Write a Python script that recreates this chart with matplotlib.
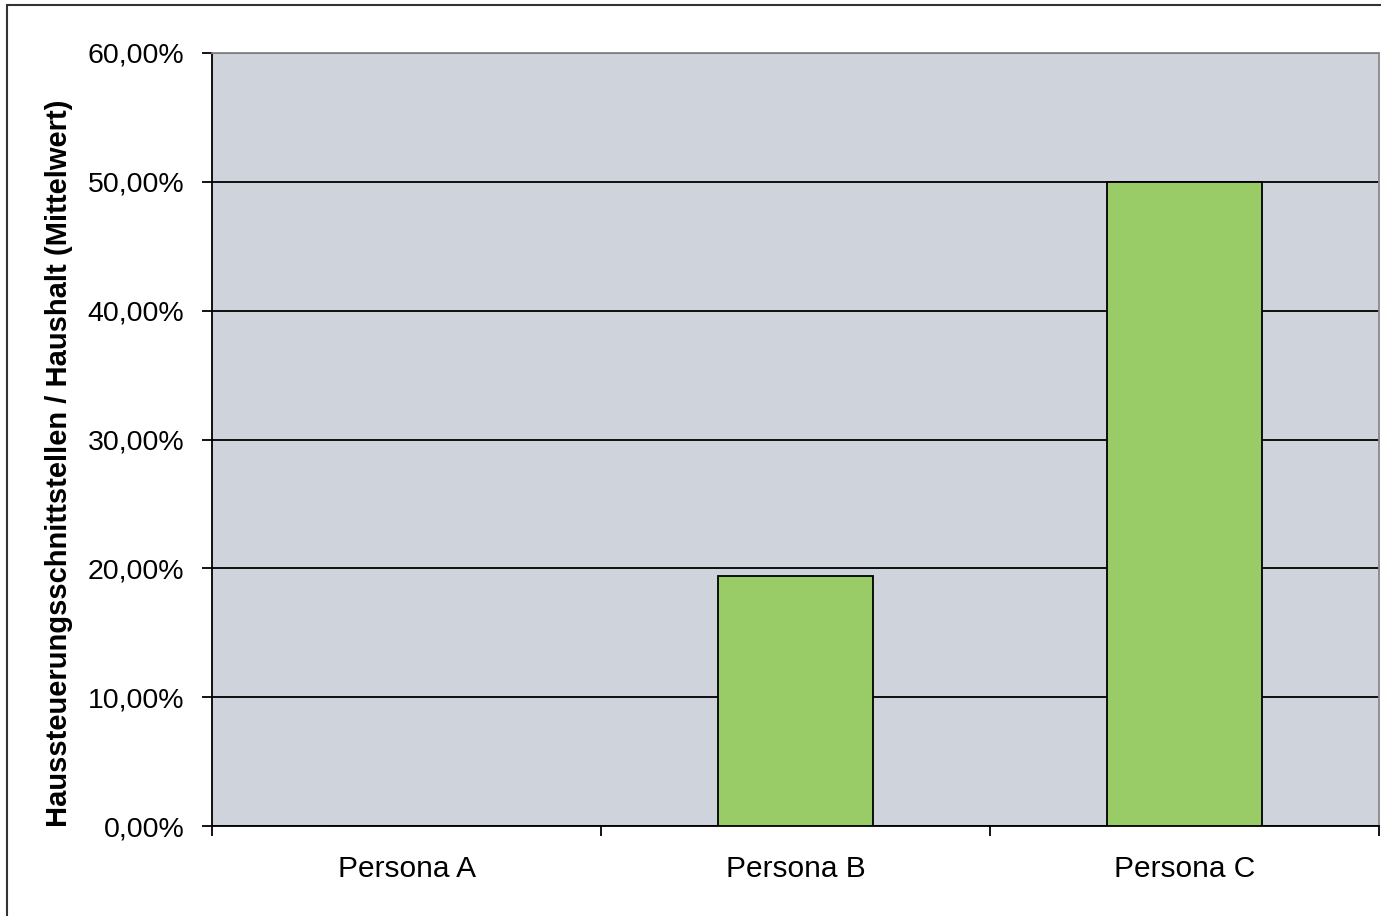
import matplotlib
matplotlib.use("Agg")
import matplotlib.pyplot as plt
from matplotlib.patches import Rectangle
from matplotlib.ticker import FuncFormatter, FixedLocator

plt.rcParams['font.family'] = ['Liberation Sans', 'DejaVu Sans']

# data
personas = ["Persona A", "Persona B", "Persona C"]
werte = [0.0, 19.4, 50.0]
y_ticks = [0, 10, 20, 30, 40, 50, 60]

W, H = 1381, 916
fig = plt.figure(figsize=(W / 100, H / 100), dpi=100)
# frame around the chart (cut off at right and bottom in the original)
fig.patches.append(Rectangle((7 / W, -0.1), 1.2, 1 - 5 / H + 0.1, transform=fig.transFigure,
                             fill=False, edgecolor="#333333", linewidth=1.5))

ax = fig.add_axes([212 / W, (H - 826) / H, (1379 - 212) / W, (826 - 53) / H])
ax.set_facecolor("#CFD3DB")

x = list(range(len(personas)))
ax.bar(x, werte, width=0.4, color="#99CC66", edgecolor="black", linewidth=1.3, zorder=3)

ax.set_xlim(-0.5, len(personas) - 0.5)
ax.set_ylim(0, 60)
ax.yaxis.set_major_locator(FixedLocator(y_ticks))
ax.yaxis.set_major_formatter(FuncFormatter(lambda v, p: f"{v:.2f}".replace(".", ",") + "%"))
ax.grid(axis="y", color="black", linewidth=1.3, zorder=1)

# category boundaries as ticks, labels centred
ax.xaxis.set_major_locator(FixedLocator([i - 0.5 for i in range(len(personas) + 1)]))
ax.xaxis.set_major_formatter(FuncFormatter(lambda v, p: ""))
ax.xaxis.set_minor_locator(FixedLocator(x))
ax.set_xticklabels(personas, minor=True)
ax.tick_params(axis="x", which="major", length=7, width=1.3, direction="out")
ax.tick_params(axis="x", which="minor", length=0, pad=21, labelsize=21.5)
ax.tick_params(axis="y", length=7, width=1.3, pad=13, labelsize=20.5)

for s in ["top", "right"]:
    ax.spines[s].set_color("#888888")
    ax.spines[s].set_linewidth(1.3)
for s in ["left", "bottom"]:
    ax.spines[s].set_color("black")
    ax.spines[s].set_linewidth(1.3)

ax.set_ylabel("Haussteuerungsschnittstellen / Haushalt (Mittelwert)", fontsize=21,
              fontweight="bold")
ax.yaxis.set_label_coords((73 - 212) / (1379 - 212), (826 - 463.5) / (826 - 53))

fig.savefig("out.png", dpi=100)
